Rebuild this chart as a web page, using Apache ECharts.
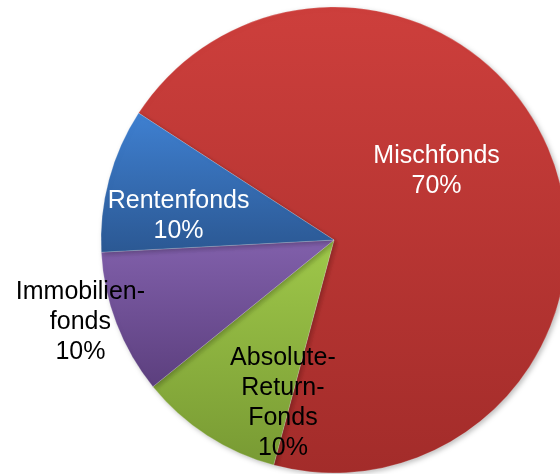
<!DOCTYPE html>
<html>
<head>
<meta charset="utf-8">
<style>
  html, body { margin: 0; padding: 0; background: #fff; }
  #chart { width: 560px; height: 474px; }
</style>
<script src="https://cdn.jsdelivr.net/npm/echarts@6/dist/echarts.min.js"></script>
</head>
<body>
<div id="chart"></div>
<script>
// Daten
const categories = ['Mischfonds', 'Absolute-\nReturn-\nFonds', 'Immobilien-\nfonds', 'Rentenfonds'];
const shares = [70, 10, 10, 10];
// colour pairs (top, bottom) per slice
const colorsTop = ['#cd3f3c', '#9fc84a', '#8160ab', '#3f80d1'];
const colorsBottom = ['#a32c2a', '#789a33', '#5c3f7e', '#2b5893'];
const labelColors = ['#fff', '#000', '#000', '#fff'];
// label shift from the slice mid point
const labelShift = [[-9, -26], [14, 63], [-142, 39], [-40, 7]];

const chart = echarts.init(document.getElementById('chart'));

chart.setOption({
  animation: false,
  series: [{
    type: 'pie',
    center: [334, 240],
    radius: 233,
    startAngle: 147,
    clockwise: true,
    silent: true,
    data: categories.map((name, i) => ({
      name: name,
      value: shares[i],
      itemStyle: {
        color: new echarts.graphic.LinearGradient(0, 0, 0, 1, [
          {offset: 0, color: colorsTop[i]},
          {offset: 1, color: colorsBottom[i]}
        ])
      },
      label: {color: labelColors[i]}
    })),
    itemStyle: {
      borderColor: 'rgba(255,255,255,0.4)',
      borderWidth: 0.5,
      shadowBlur: 5,
      shadowOffsetX: 2,
      shadowOffsetY: 2,
      shadowColor: 'rgba(0,0,0,0.25)'
    },
    label: {
      show: true,
      position: 'inside',
      formatter: '{b}\n{d}%',
      fontFamily: 'Liberation Sans, Arial, sans-serif',
      fontSize: 25,
      lineHeight: 30,
      align: 'center'
    },
    labelLine: {show: false},
    labelLayout: function (p) {
      return {dx: labelShift[p.dataIndex][0], dy: labelShift[p.dataIndex][1]};
    }
  }]
});

window.onresize = () => chart.resize();
</script>
</body>
</html>
